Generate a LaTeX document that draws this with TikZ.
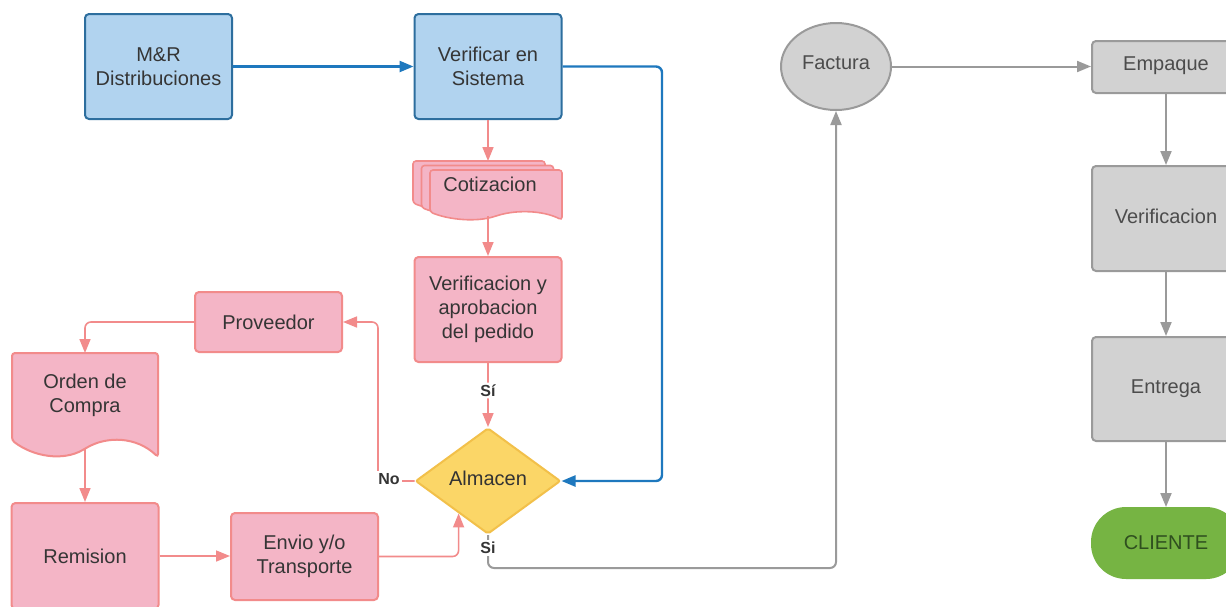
\documentclass[tikz,border=0pt]{standalone}
\usepackage{fontspec}
\setmainfont{Liberation Sans}
\usetikzlibrary{arrows.meta,shapes.geometric,calc}

\definecolor{bluefill}{HTML}{B1D3EF}
\definecolor{blueline}{HTML}{2D6E9E}
\definecolor{bluearrow}{HTML}{1E78BE}
\definecolor{pinkfill}{HTML}{F4B5C6}
\definecolor{pinkline}{HTML}{F28B8B}
\definecolor{yellowfill}{HTML}{FBD667}
\definecolor{yellowline}{HTML}{F2C04A}
\definecolor{greyfill}{HTML}{D2D2D2}
\definecolor{greyline}{HTML}{9A9A9A}
\definecolor{greenfill}{HTML}{76B443}
\definecolor{greentext}{HTML}{2F4F1F}
\definecolor{txt}{HTML}{353535}

% document shape with wavy bottom: #1 style, #2 x, #3 y, #4 width, #5 height
\newcommand\mydocshape[5]{%
  \path[#1, shift={(#2,#3)}, xscale=#4, yscale=#5]
    (0,0) -- (1,0) -- (1,1)
    .. controls (0.85,0.8) and (0.65,0.8) .. (0.5,0.92)
    .. controls (0.35,1.04) and (0.15,1.0) .. (0,0.84) -- cycle;}

\tikzset{
  base/.style={font=\fontsize{10pt}{12pt}\selectfont, text=txt, align=center,
    line width=1pt, rounded corners=2pt, inner sep=0pt},
  bluebox/.style={base, draw=blueline, fill=bluefill, minimum width=73.5pt, minimum height=52.5pt},
  pinkbox/.style={base, draw=pinkline, fill=pinkfill, minimum width=73.5pt},
  greybox/.style={base, draw=greyline, fill=greyfill, minimum width=74pt, text=black!70},
  decision/.style={base, diamond, rounded corners=1pt, draw=yellowline, fill=yellowfill,
    minimum width=72.5pt, minimum height=53pt, text=black!80},
  docstyle/.style={draw=pinkline, fill=pinkfill, line width=0.8pt, rounded corners=1.5pt},
  bluearr/.style={draw=bluearrow, line width=1.2pt, rounded corners=3pt,
    -{Triangle[length=7pt,width=5.5pt]}},
  pinkarr/.style={draw=pinkline, line width=0.8pt, rounded corners=3pt,
    -{Triangle[length=7pt,width=5.5pt]}},
  greyarr/.style={draw=greyline, line width=1pt, rounded corners=3pt,
    -{Triangle[length=7pt,width=5.5pt]}},
  lbl/.style={font=\bfseries\fontsize{8pt}{9pt}\selectfont, text=txt, fill=white, inner sep=1pt}
}

\begin{document}
\begin{tikzpicture}[x=0.5pt, y=-0.5pt]
  \clip (0,0) rectangle (1226,606);
  \fill[white] (0,0) rectangle (1226,606);

  % --- blue entry boxes ---
  \node[bluebox] (mr)  at (158.5,66.5) {M\&R\\Distribuciones};
  \node[bluebox] (ver) at (488,66.5) {Verificar en\\Sistema};

  % --- stacked quotation documents ---
  \mydocshape{docstyle}{413}{161}{132}{50}
  \mydocshape{docstyle}{421.5}{165.5}{132}{50}
  \mydocshape{docstyle}{430}{170}{132}{50}
  \node[base] (cot) at (490,184) {Cotizacion};
  \coordinate (cottop) at (488,161);
  \coordinate (cotbot) at (488,216);

  \node[pinkbox, minimum height=52.5pt] (apr) at (488,309.5) {Verificacion y\\aprobacion\\del pedido};
  \node[decision] (alm) at (488,481) {\raisebox{3pt}{Almacen}};

  \node[pinkbox, minimum height=30pt] (prov) at (268.5,322) {Proveedor};

  % purchase order document
  \mydocshape{docstyle, line width=1pt}{12}{353}{146}{104}
  \node[base] (ord) at (85,395) {Orden de\\Compra};
  \coordinate (ordtop) at (85,353);
  \coordinate (ordbot) at (85,449);

  \node[pinkbox, minimum height=53pt] (rem) at (85,556) {Remision};
  \node[pinkbox, minimum height=43.5pt] (env) at (304.5,556.5) {Envio y/o\\Transporte};

  % --- grey dispatch column ---
  \node[base, ellipse, draw=greyline, fill=greyfill, minimum width=55pt, minimum height=43.5pt,
        text=black!70] (fac) at (836,66.5) {\raisebox{4pt}{Factura}};
  \node[greybox, minimum height=26pt] (emp) at (1166,67) {\raisebox{3pt}{Empaque}};
  \node[greybox, minimum height=52.5pt] (vfc) at (1166,218.5) {\raisebox{2pt}{Verificacion}};
  \node[greybox, minimum height=52pt] (ent) at (1166,389) {\raisebox{2pt}{Entrega}};
  \node[base, draw=greenfill, fill=greenfill, rounded corners=17pt, minimum width=74pt,
        minimum height=35pt, text=greentext] (cli) at (1166,543) {CLIENTE};

  % --- connectors ---
  \draw[bluearr] (mr.east) -- (mr.east -| ver.west);
  \draw[bluearr] (ver.east) -- (662,66.5) -- (662,481) -- (alm.east);

  \draw[pinkarr] (ver.south) -- (cottop);
  \draw[pinkarr] (cotbot) -- (apr.north);
  \draw[pinkarr] (apr.south) -- (alm.north)
    node[lbl, pos=0.43] (si1) {Sí};

  \coordinate (noturn) at (378,481);
  \draw[pinkarr] (alm.west) -- (noturn) |- (prov.east);
  \node[lbl] (no) at (389,479) {No};

  \draw[pinkarr] (prov.west) -| (ordtop);
  \draw[pinkarr] (ordbot) -- (rem.north);
  \draw[pinkarr] (rem.east) -- (rem.east -| env.west);
  \coordinate (almin) at ($(alm.west)!0.6!(alm.south)$);
  \draw[pinkarr] (env.east) -| (almin);

  \coordinate (sidown) at (488,568);
  \draw[greyarr] (alm.south) -- (sidown) -| (fac.south);
  \node[lbl] (si2) at (488,548) {Si};

  \draw[greyarr] (fac.east) -- (fac.east -| emp.west);
  \draw[greyarr] (emp.south) -- (vfc.north);
  \draw[greyarr] (vfc.south) -- (ent.north);
  \draw[greyarr] (ent.south) -- (cli.north);
\end{tikzpicture}
\end{document}
